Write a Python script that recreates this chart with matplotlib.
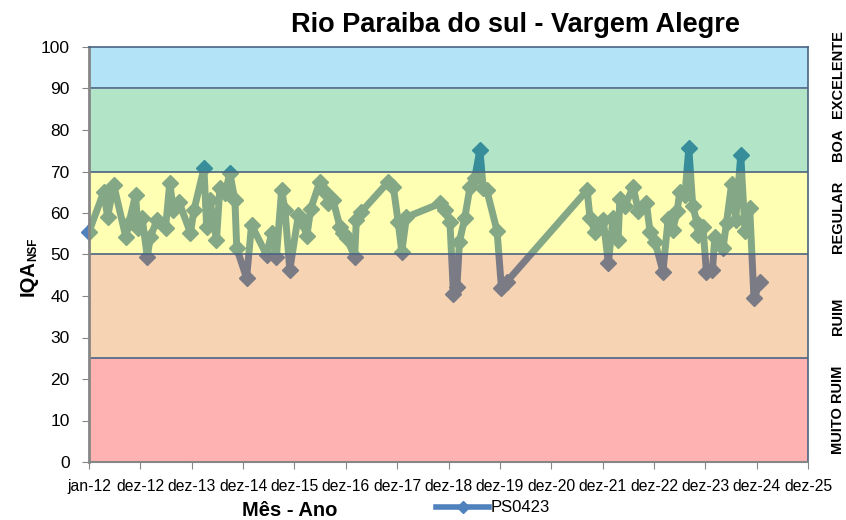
import pandas as pd
import matplotlib.pyplot as plt
from matplotlib.lines import Line2D
from matplotlib import transforms

plt.rcParams['font.family'] = ['Liberation Sans', 'DejaVu Sans']

# datas das coletas e valores do IQA (PS0423)
datas = [
    "2012-01-01", "2012-04-15", "2012-05-12", "2012-06-25", "2012-09-18", "2012-10-10",
    "2012-11-27", "2012-12-13", "2013-01-13", "2013-02-18", "2013-03-13", "2013-04-28",
    "2013-06-28", "2013-07-28", "2013-08-22", "2013-10-01", "2013-12-22", "2014-01-16",
    "2014-03-28", "2014-04-16", "2014-05-10", "2014-06-25", "2014-07-19", "2014-08-25",
    "2014-09-28", "2014-11-03", "2014-11-16", "2015-01-25", "2015-03-01", "2015-06-16",
    "2015-07-22", "2015-08-25", "2015-10-01", "2015-10-25", "2015-11-28", "2016-01-28",
    "2016-03-01", "2016-03-28", "2016-04-25", "2016-06-28", "2016-08-03", "2016-08-28",
    "2016-10-01", "2016-11-18", "2016-12-12", "2017-01-06", "2017-03-03", "2017-03-15",
    "2017-04-20", "2017-10-28", "2017-12-03", "2018-01-06", "2018-02-01", "2018-03-06",
    "2018-11-01", "2018-12-03", "2019-01-09", "2019-02-03", "2019-02-28", "2019-03-18",
    "2019-04-24", "2019-06-01", "2019-07-04", "2019-08-10", "2019-09-03", "2019-09-28",
    "2019-12-10", "2020-01-10", "2020-02-16", "2021-09-10", "2021-10-01", "2021-11-06",
    "2021-11-28", "2022-01-03", "2022-02-08", "2022-03-13", "2022-04-18", "2022-05-01",
    "2022-06-06", "2022-08-03", "2022-09-09", "2022-11-06", "2022-12-01", "2023-01-06",
    "2023-03-03", "2023-04-09", "2023-05-12", "2023-06-12", "2023-07-01", "2023-08-06",
    "2023-09-03", "2023-10-01", "2023-11-01", "2023-11-09", "2023-12-12", "2024-01-06",
    "2024-02-18", "2024-03-06", "2024-05-03", "2024-05-28", "2024-07-03", "2024-08-01",
    "2024-09-06", "2024-10-06", "2024-11-09", "2024-12-09", "2025-01-22",
]
iqa = [
    55.5, 65.1, 59.1, 66.7, 54.3, 57.5,
    64.3, 56.5, 58.8, 49.5, 54.3, 58.3,
    56.4, 67.2, 60.7, 62.7, 55.2, 60.7,
    70.8, 56.7, 63.1, 53.5, 66.0, 64.7,
    69.6, 63.1, 51.5, 44.3, 57.1, 49.9,
    55.1, 49.5, 65.5, 60.7, 46.3, 59.5,
    57.5, 54.5, 61.0, 67.5, 65.1, 62.3,
    63.1, 56.7, 55.1, 53.9, 49.5, 58.3,
    60.3, 67.5, 66.3, 57.9, 50.7, 59.0,
    62.3, 60.7, 57.9, 40.6, 42.2, 53.1,
    58.7, 66.3, 68.4, 75.2, 66.0, 65.5,
    55.7, 42.0, 43.4, 65.5, 58.7, 55.5,
    56.5, 58.3, 47.9, 58.7, 53.5, 63.3,
    61.7, 66.3, 60.5, 62.3, 55.5, 53.0,
    45.9, 58.5, 55.9, 60.5, 65.1, 64.3,
    75.6, 61.7, 57.5, 54.7, 56.7, 45.9,
    46.3, 54.3, 51.5, 57.7, 67.0, 58.3,
    74.0, 55.7, 61.1, 39.4, 43.4,
]

# eixo x: marcas a cada 365 dias a partir de jan-12
inicio = pd.Timestamp("2012-01-01")
marcas = [inicio + pd.Timedelta(days=365 * k) for k in range(15)]
rotulos_x = ["jan-12", "dez-12", "dez-13", "dez-14", "dez-15", "dez-16", "dez-17",
             "dez-18", "dez-19", "dez-20", "dez-21", "dez-22", "dez-23", "dez-24", "dez-25"]

# faixas de qualidade
limites = [0, 25, 50, 70, 90, 100]
classes = ["MUITO RUIM", "RUIM", "REGULAR", "BOA", "EXCELENTE"]
cores = ["#ff0000", "#e17005", "#ffff05", "#00ac48", "#05a5e4"]

fig = plt.figure(figsize=(8.46, 5.2), dpi=100)
ax = fig.add_axes([89 / 846, 1 - 462 / 520, (808 - 89) / 846, (462 - 47) / 520])

x = pd.to_datetime(datas)
ax.plot(x, iqa, color="#4F81BD", lw=5, marker="D", ms=8, zorder=1, clip_on=False)

for i, nome in enumerate(classes):
    ax.axhspan(limites[i], limites[i + 1], color=cores[i], alpha=0.3, lw=0, zorder=2)
for y in limites[1:-1]:
    ax.axhline(y, color="#4a6484", lw=1.2, zorder=3)

# rótulos das classes à direita
trans = transforms.blended_transform_factory(ax.transAxes, ax.transData)
meio = [12.5, 35, 59, 76.5, 93.5]
for nome, ym in zip(classes, meio):
    ax.text(1.042, ym, nome, transform=trans, rotation=90, ha="center", va="center",
            fontsize=10.5, fontweight="bold")

ax.set_ylim(0, 100)
ax.set_yticks(range(0, 101, 10))
ax.set_xlim(marcas[0], marcas[-1])
ax.set_xticks(marcas)
ax.set_xticklabels(rotulos_x)
ax.tick_params(axis="both", color="#868686", direction="out", length=5)
ax.tick_params(axis="x", labelsize=11.3, pad=7)
ax.tick_params(axis="y", labelsize=12.5, pad=9)

for lado in ["top", "right"]:
    ax.spines[lado].set_color("#4a6484")
    ax.spines[lado].set_linewidth(1.2)
ax.spines["left"].set_color("#868686")
ax.spines["left"].set_linewidth(2)
ax.spines["bottom"].set_color("#868686")
ax.spines["bottom"].set_linewidth(1.5)
for s in ax.spines.values():
    s.set_zorder(4)

fig.text(515 / 846, 1 - 25 / 520, "Rio Paraiba do sul - Vargem Alegre", ha="center", va="center",
         fontsize=19.5, fontweight="bold")
fig.text(290 / 846, 1 - 510 / 520, "Mês - Ano", ha="center", va="center", fontsize=14.5, fontweight="bold")
fig.text(28 / 846, 1 - 278 / 520, "IQA", rotation=90, ha="center", va="center", fontsize=14.5, fontweight="bold")
fig.text(33 / 846, 1 - 249 / 520, "NSF", rotation=90, ha="center", va="center", fontsize=8.5, fontweight="bold")

fig.legend(handles=[Line2D([], [], color="#4F81BD", lw=4, marker="D", ms=6)], labels=["PS0423"],
           loc="center", bbox_to_anchor=(493 / 846, 1 - 508 / 520), frameon=False,
           handlelength=3.2, handletextpad=0.1, fontsize=12)

fig.savefig("out.png", dpi=100)
